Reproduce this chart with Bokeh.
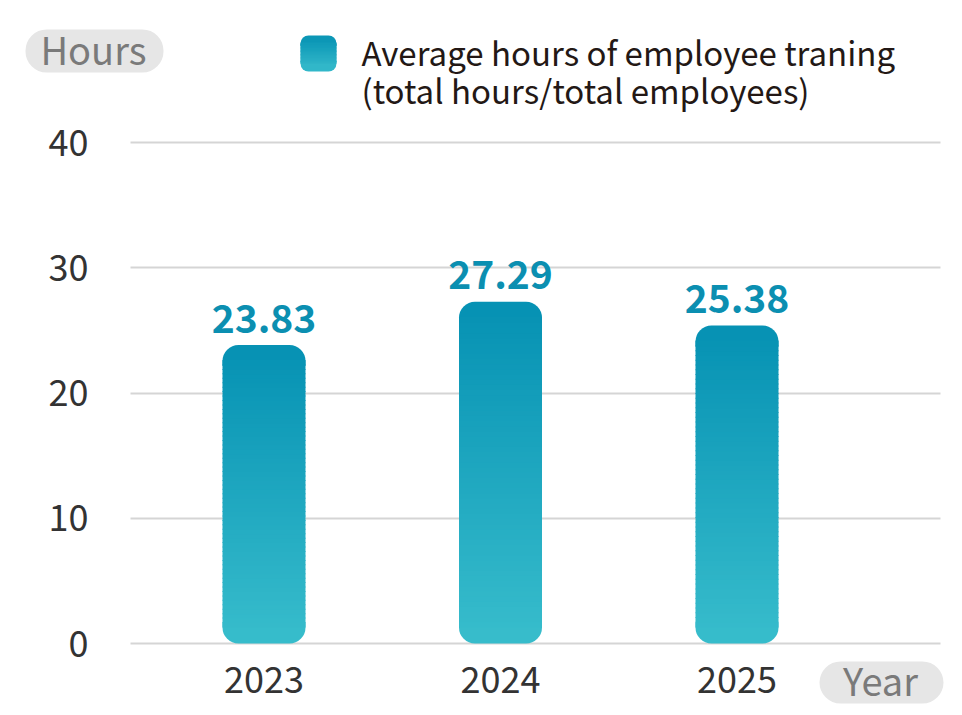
from bokeh.plotting import figure
from bokeh.models import ColumnDataSource, Range1d, FixedTicker
from bokeh.core.properties import value
from bokeh.embed import file_html
from bokeh.resources import INLINE

# ---------------- data ----------------
years = ["2023", "2024", "2025"]
hours = [23.83, 27.29, 25.38]
y_ticks = [0, 10, 20, 30, 40]
legend_lines = ["Average hours of employee traning", "(total hours/total employees)"]
y_unit_label = "Hours"
x_unit_label = "Year"

# ---------------- styling / layout ----------------
FONT = "Noto Sans CJK TC"
TOP_C = (5, 145, 179)
BOT_C = (56, 189, 204)
W, H = 962, 715
X0_PX, X_STEP = 263.5, 236.5      # page x of first category, px per category
Y0_PX, Y_STEP = 643.0, 12.525      # page y of value 0, px per hour
ALPHA_FIX = 0.41                   # baseline correction (em) for alphabetic text


def xd(px):
    return (px - X0_PX) / X_STEP


def yd(py):
    return (Y0_PX - py) / Y_STEP


def lerp(f):
    f = max(0.0, min(1.0, f))
    r, g, b = (round(BOT_C[i] + (TOP_C[i] - BOT_C[i]) * f) for i in range(3))
    return "#%02x%02x%02x" % (r, g, b)


def gradient_pieces(fig, xc_list, width, y0_list, y1_list, r_px, n):
    r_u = r_px / Y_STEP
    eps = 1.0 / Y_STEP
    bx, bb, bt, bc = [], [], [], []
    tx, tb, tt, tc = [], [], [], []
    strips = {"x": [], "b": [], "t": [], "c": []}
    for xc, y0, y1 in zip(xc_list, y0_list, y1_list):
        h = y1 - y0
        bx.append(xc); bb.append(y0); bt.append(y0 + r_u * 1.3); bc.append(lerp(r_u * 0.6 / h))
        tx.append(xc); tb.append(y1 - r_u * 1.3); tt.append(y1); tc.append(lerp(1 - r_u * 0.6 / h))
        a, b = y0 + r_u, y1 - r_u
        for i in range(n):
            s0 = a + (b - a) * i / n
            s1 = a + (b - a) * (i + 1) / n
            strips["x"].append(xc)
            strips["b"].append(s0)
            strips["t"].append(s1 + eps)
            strips["c"].append(lerp(((s0 + s1) / 2 - y0) / h))
    fig.vbar(x="x", width=width, bottom="b", top="t", fill_color="c", line_color=None,
             source=ColumnDataSource(dict(x=bx, b=bb, t=bt, c=bc)),
             border_radius=(0, 0, r_px, r_px))
    fig.vbar(x="x", width=width, bottom="b", top="t", fill_color="c", line_color=None,
             source=ColumnDataSource(dict(x=tx, b=tb, t=tt, c=tc)),
             border_radius=(r_px, r_px, 0, 0))
    fig.vbar(x="x", width=width, bottom="b", top="t", fill_color="c", line_color=None,
             source=ColumnDataSource(strips))


p = figure(width=W, height=H, output_backend="svg", toolbar_location=None,
           x_range=Range1d(xd(0), xd(W)), y_range=Range1d(yd(H), yd(0)),
           min_border=0, border_fill_color="white", background_fill_color="white")
p.outline_line_color = None
p.xgrid.visible = False
p.ygrid.ticker = FixedTicker(ticks=y_ticks)
p.ygrid.cross_bounds = (xd(130), xd(940))
p.ygrid.grid_line_color = "#d5d5d5"
p.ygrid.grid_line_width = 2

for ax in (p.xaxis[0], p.yaxis[0]):
    ax.axis_line_color = None
    ax.major_tick_line_color = None
    ax.minor_tick_line_color = None
    ax.major_tick_out = 0
    ax.major_tick_in = 0
    ax.major_label_text_font = FONT
    ax.major_label_text_color = "#333333"
    ax.major_label_text_font_size = "36px"

p.yaxis.ticker = FixedTicker(ticks=y_ticks)
p.yaxis.fixed_location = xd(130)
p.yaxis.major_label_standoff = 42
xs = list(range(len(years)))
p.xaxis.ticker = FixedTicker(ticks=xs)
p.xaxis.major_label_overrides = {i: y for i, y in zip(xs, years)}
p.xaxis.fixed_location = 0
p.xaxis.major_label_standoff = 23

# bars with vertical gradient
gradient_pieces(p, xs, 83 / X_STEP, [0] * len(hours), hours, 16, 60)

# value labels
lab_src = ColumnDataSource(dict(x=xs, y=hours, t=["%.2f" % v for v in hours]))
p.text(x="x", y="y", text="t", source=lab_src, text_align="center",
       text_baseline="alphabetic", y_offset=-11 - ALPHA_FIX * 39, text_font=value(FONT),
       text_font_style="bold", text_font_size="39px", text_color="#0b8fb1")

# unit pills
def pill(l, r, t, b, cx, base, text):
    p.quad(left=[xd(l)], right=[xd(r)], top=[yd(t)], bottom=[yd(b)],
           fill_color="#e6e6e6", line_color=None, border_radius=int((b - t) / 2))
    p.text(x=[xd(cx)], y=[yd(base - ALPHA_FIX * 38)], text=[text], text_align="center",
           text_baseline="alphabetic", text_font=value(FONT), text_font_size="38px",
           text_color="#7a7a7a")


pill(25, 163, 29, 72, 93, 64, y_unit_label)
pill(819, 943, 661, 703, 880, 695, x_unit_label)

# legend marker + text
gradient_pieces(p, [xd(318)], 36 / X_STEP, [yd(71)], [yd(35)], 8, 14)
p.text(x=[xd(361)] * 2, y=[yd(65 - ALPHA_FIX * 33), yd(103 - ALPHA_FIX * 33)],
       text=legend_lines, text_align="left", text_baseline="alphabetic",
       text_font=value(FONT), text_font_size="33px", text_color="#231815")

open("out.html", "w").write(file_html(p, INLINE))
